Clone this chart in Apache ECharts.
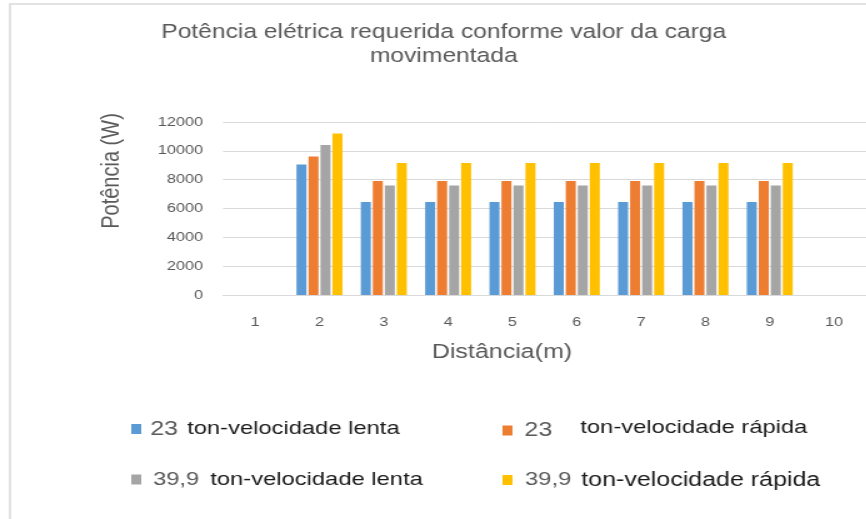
<!DOCTYPE html>
<html>
<head>
<meta charset="utf-8">
<script src="https://cdn.jsdelivr.net/npm/echarts@6/dist/echarts.min.js"></script>
<style>
html,body{margin:0;padding:0;background:#fff;overflow:hidden;width:866px;height:519px;}
#chart{width:693px;height:519px;transform:scaleX(1.25);transform-origin:0 0;}
</style>
</head>
<body>
<div id="chart"></div>
<script>
var categories = ['1','2','3','4','5','6','7','8','9','10'];
var seriesNames = ['23 ton-velocidade lenta','23  ton-velocidade rápida','39,9  ton-velocidade lenta','39,9 ton-velocidade rápida'];
var lenta23 = [null, 9050, 6450, 6450, 6450, 6450, 6450, 6450, 6450, null];
var rapida23 = [null, 9600, 7900, 7900, 7900, 7900, 7900, 7900, 7900, null];
var lenta399 = [null, 10400, 7600, 7600, 7600, 7600, 7600, 7600, 7600, null];
var rapida399 = [null, 11200, 9150, 9150, 9150, 9150, 9150, 9150, 9150, null];
var colors = ['#5b9bd5', '#ed7d31', '#a5a5a5', '#ffc000'];
var yTicks = [0, 2000, 4000, 6000, 8000, 10000, 12000];

var FONT = '"Liberation Sans", Arial, sans-serif';
var chart = echarts.init(document.getElementById('chart'), null, {renderer: 'canvas', width: 693, height: 519});

function legendFmt(name) {
  var i = name.indexOf(' ');
  var num = name.slice(0, i);
  var rest = name.slice(i).replace(/^\s+/, '');
  return '{n|' + num + '}{t|' + rest + '}';
}
// positions in unscaled units (x / 1.25)
var legendPos = [[105, 419], [402, 418], [105, 470], [402, 470]];
var legendPad = [[2.2, 7.2], [4.6, 22.4], [4.4, 8.8], [5, 8]];
var numSize = [20, 20, 19, 19];
var txtSize = [19, 19, 19, 20];
var legends = seriesNames.map(function (nm, k) {
  return {
    data: [nm],
    left: legendPos[k][0],
    top: legendPos[k][1],
    icon: 'rect',
    itemWidth: 8,
    itemHeight: 10,
    itemGap: 0,
    padding: 0,
    selectedMode: false,
    formatter: legendFmt,
    textStyle: {
      rich: {
        n: {fontFamily: FONT, fontSize: numSize[k], color: '#595959', padding: [0, legendPad[k][1], 0, legendPad[k][0]]},
        t: {fontFamily: FONT, fontSize: txtSize[k], color: '#1a1a1a', padding: k === 1 ? [0, 0, 6, 0] : 0}
      }
    }
  };
});

var dataSets = [lenta23, rapida23, lenta399, rapida399];
var series = dataSets.map(function (d, k) {
  return {
    name: seriesNames[k],
    type: 'bar',
    data: d,
    barWidth: 8,
    barGap: '20%',
    itemStyle: {color: colors[k]}
  };
});

chart.setOption({
  animation: false,
  backgroundColor: '#fff',
  color: colors,
  title: {
    text: 'Potência elétrica requerida conforme valor da carga\nmovimentada',
    left: 350,
    textAlign: 'center',
    top: 16,
    textStyle: {fontFamily: FONT, fontSize: 19.7, fontWeight: 'normal', color: '#595959', lineHeight: 24}
  },
  legend: legends,
  grid: {left: 178.4, right: -5.4, top: 122, bottom: 224, containLabel: false},
  xAxis: {
    type: 'category',
    data: categories,
    axisLine: {lineStyle: {color: '#d9d9d9', width: 1}},
    axisTick: {show: false},
    axisLabel: {fontFamily: FONT, fontSize: 13, color: '#595959', margin: 21}
  },
  yAxis: {
    type: 'value',
    min: yTicks[0],
    max: yTicks[yTicks.length - 1],
    interval: 2000,
    axisLine: {show: false},
    axisTick: {show: false},
    splitLine: {lineStyle: {color: '#d9d9d9', width: 1}},
    axisLabel: {fontFamily: FONT, fontSize: 13, color: '#595959', margin: 16, formatter: function (v) { return String(v); }}
  },
  graphic: [
    {type: 'rect', z: -1, shape: {x: 8, y: 4, width: 800, height: 600}, style: {fill: null, stroke: '#d9d9d9', lineWidth: 1.5}},
    {type: 'text', x: 401.6, y: 352, style: {text: 'Distância(m)', fontFamily: FONT, fontSize: 20, fill: '#595959', align: 'center', verticalAlign: 'middle'}},
    {type: 'text', x: 89.6, y: 171, rotation: Math.PI / 2, style: {text: 'Potência (W)', fontFamily: FONT, fontSize: 20, fill: '#595959', align: 'center', verticalAlign: 'middle'}}
  ],
  series: series
});
</script>
</body>
</html>
